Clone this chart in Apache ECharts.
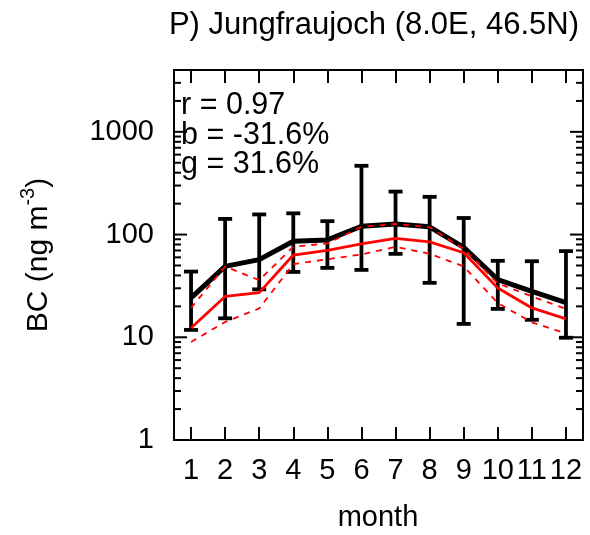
<!DOCTYPE html>
<html>
<head>
<meta charset="utf-8">
<script src="https://cdn.jsdelivr.net/npm/echarts@6/dist/echarts.min.js"></script>
<style>
html,body{margin:0;padding:0;background:#fff;}
#chart{width:590px;height:535px;}
</style>
</head>
<body>
<div id="chart"></div>
<script>
const months = ['1','2','3','4','5','6','7','8','9','10','11','12'];
const obsMean = [24.2, 49, 57, 86, 88.7, 120.6, 127, 119, 75, 36.5, 28, 21.7];
const obsHigh = [43.6, 142, 157, 161, 135, 467, 262, 233, 145, 55.5, 55, 69];
const obsLow = [11.8, 15.3, 29.3, 43.3, 47.4, 45.3, 64.9, 33.9, 13.5, 18.9, 14.8, 9.9];
const modelMean = [12.3, 25, 27.2, 63.2, 70, 81, 92, 85, 66.5, 30.2, 19.3, 15.1];
const modelHigh = [19.3, 48.8, 36, 76, 82, 119, 127, 118, 72.6, 33.5, 25, 18.9];
const modelLow = [9, 14.1, 19.1, 51.5, 57.5, 64, 76, 65, 49, 21.5, 14, 10.9];
const yMajorTicks = [1, 10, 100, 1000];
const yMinorTicks = [2,3,4,5,6,7,8,9,20,30,40,50,60,70,80,90,200,300,400,500,600,700,800,900,2000,3000];
const yTickLabels = ['1','10','100','1000'];
const statsLines = ['r = 0.97', 'b = -31.6%', 'g = 31.6%'];
const titleText = 'P) Jungfraujoch (8.0E, 46.5N)';

const FONT = '"Liberation Sans", Arial, Helvetica, sans-serif';
const chart = echarts.init(document.getElementById('chart'), null, {renderer: 'canvas'});

const tickData = yMajorTicks.map(v => [0, v, 13]).concat(yMinorTicks.map(v => [0, v, 7]));

function tickRender(side) {
  return function (params, api) {
    const cs = params.coordSys;
    const y = api.coord([0, api.value(1)])[1];
    const len = api.value(2);
    const x0 = side === 'left' ? cs.x : cs.x + cs.width;
    const x1 = side === 'left' ? x0 + len : x0 - len;
    return {type: 'line', shape: {x1: x0, y1: y, x2: x1, y2: y},
      style: {stroke: '#000', lineWidth: 2}};
  };
}

const option = {
  animation: false,
  backgroundColor: '#fff',
  title: {
    text: titleText, right: 6, top: 5,
    textStyle: {fontFamily: FONT, fontSize: 31, fontWeight: 'normal', color: '#000'}
  },
  grid: {left: 174, right: 7, top: 70, bottom: 95, show: true, borderColor: '#000', borderWidth: 2, containLabel: false},
  xAxis: [{
    type: 'category', data: months, boundaryGap: true, position: 'bottom',
    axisLine: {show: true, lineStyle: {color: '#000', width: 2}},
    axisTick: {show: true, inside: true, length: 13, alignWithLabel: true, lineStyle: {color: '#000', width: 2}},
    axisLabel: {interval: 0, hideOverlap: false, margin: 16, color: '#000', fontFamily: FONT, fontSize: 29},
    splitLine: {show: false}
  }, {
    type: 'category', data: months, boundaryGap: true, position: 'top',
    axisLine: {show: true, lineStyle: {color: '#000', width: 2}},
    axisTick: {show: true, inside: true, length: 13, alignWithLabel: true, interval: 0, lineStyle: {color: '#000', width: 2}},
    axisLabel: {show: false}, splitLine: {show: false}
  }],
  yAxis: [{
    type: 'log', logBase: 10, min: 1, max: 4000, position: 'left',
    axisLine: {show: true, lineStyle: {color: '#000', width: 2}},
    axisTick: {show: false}, splitLine: {show: false}, minorTick: {show: false},
    axisLabel: {
      margin: 20, color: '#000', fontFamily: FONT, fontSize: 29,
      showMaxLabel: false,
      formatter: function (v) {
        for (let i = 0; i < yMajorTicks.length; i++) {
          if (Math.abs(v - yMajorTicks[i]) / yMajorTicks[i] < 1e-6) return yTickLabels[i];
        }
        return '';
      }
    }
  }, {
    type: 'log', logBase: 10, min: 1, max: 4000, position: 'right',
    axisLine: {show: true, lineStyle: {color: '#000', width: 2}},
    axisTick: {show: false}, axisLabel: {show: false}, splitLine: {show: false}
  }],
  graphic: [
    {type: 'text', x: 181, y: 106, style: {text: statsLines[0], font: '30.5px ' + FONT, fill: '#000', verticalAlign: 'middle'}},
    {type: 'text', x: 181, y: 136, style: {text: statsLines[1], font: '30.5px ' + FONT, fill: '#000', verticalAlign: 'middle'}},
    {type: 'text', x: 181, y: 165, style: {text: statsLines[2], font: '30.5px ' + FONT, fill: '#000', verticalAlign: 'middle'}},
    {type: 'text', x: 378, y: 518, style: {text: 'month', font: '29px ' + FONT, fill: '#000', align: 'center', verticalAlign: 'middle'}},
    {type: 'text', x: 36, y: 255, rotation: Math.PI / 2,
      style: {
        text: '{a|BC (ng m}{s|-3}{a|)}', align: 'center', verticalAlign: 'middle', fill: '#000',
        rich: {
          a: {fontFamily: FONT, fontSize: 30, fill: '#000', verticalAlign: 'bottom', lineHeight: 36},
          s: {fontFamily: FONT, fontSize: 20, fill: '#000', verticalAlign: 'top', lineHeight: 36}
        }
      }}
  ],
  series: [
    {
      type: 'custom', name: 'obsRange', xAxisIndex: 0, yAxisIndex: 0, z: 3, clip: false,
      data: months.map((m, i) => [i, obsLow[i], obsHigh[i]]),
      encode: {x: 0, y: [1, 2]},
      renderItem: function (params, api) {
        const lo = api.coord([api.value(0), api.value(1)]);
        const hi = api.coord([api.value(0), api.value(2)]);
        const hw = 7;
        const st = {stroke: '#000', lineWidth: 3.8};
        return {type: 'group', children: [
          {type: 'line', shape: {x1: lo[0], y1: lo[1], x2: hi[0], y2: hi[1]}, style: st},
          {type: 'line', shape: {x1: lo[0] - hw, y1: lo[1], x2: lo[0] + hw, y2: lo[1]}, style: st},
          {type: 'line', shape: {x1: hi[0] - hw, y1: hi[1], x2: hi[0] + hw, y2: hi[1]}, style: st}
        ]};
      }
    },
    {
      type: 'line', name: 'obs', data: obsMean, symbol: 'none', z: 3,
      lineStyle: {color: '#000', width: 5}, itemStyle: {color: '#000'}
    },
    {
      type: 'line', name: 'model', data: modelMean, symbol: 'none', z: 4,
      lineStyle: {color: '#ff0000', width: 2.8}, itemStyle: {color: '#ff0000'}
    },
    {
      type: 'line', name: 'modelHigh', data: modelHigh, symbol: 'none', z: 4,
      lineStyle: {color: '#ff0000', width: 1.8, type: [6, 6]}
    },
    {
      type: 'line', name: 'modelLow', data: modelLow, symbol: 'none', z: 4,
      lineStyle: {color: '#ff0000', width: 1.8, type: [6, 6]}
    },
    {
      type: 'custom', name: 'yTicksLeft', xAxisIndex: 0, yAxisIndex: 0, z: 5, clip: false, silent: true,
      data: tickData, encode: {x: 0, y: 1}, renderItem: tickRender('left')
    },
    {
      type: 'custom', name: 'yTicksRight', xAxisIndex: 0, yAxisIndex: 0, z: 5, clip: false, silent: true,
      data: tickData, encode: {x: 0, y: 1}, renderItem: tickRender('right')
    }
  ]
};
chart.setOption(option);
</script>
</body>
</html>
